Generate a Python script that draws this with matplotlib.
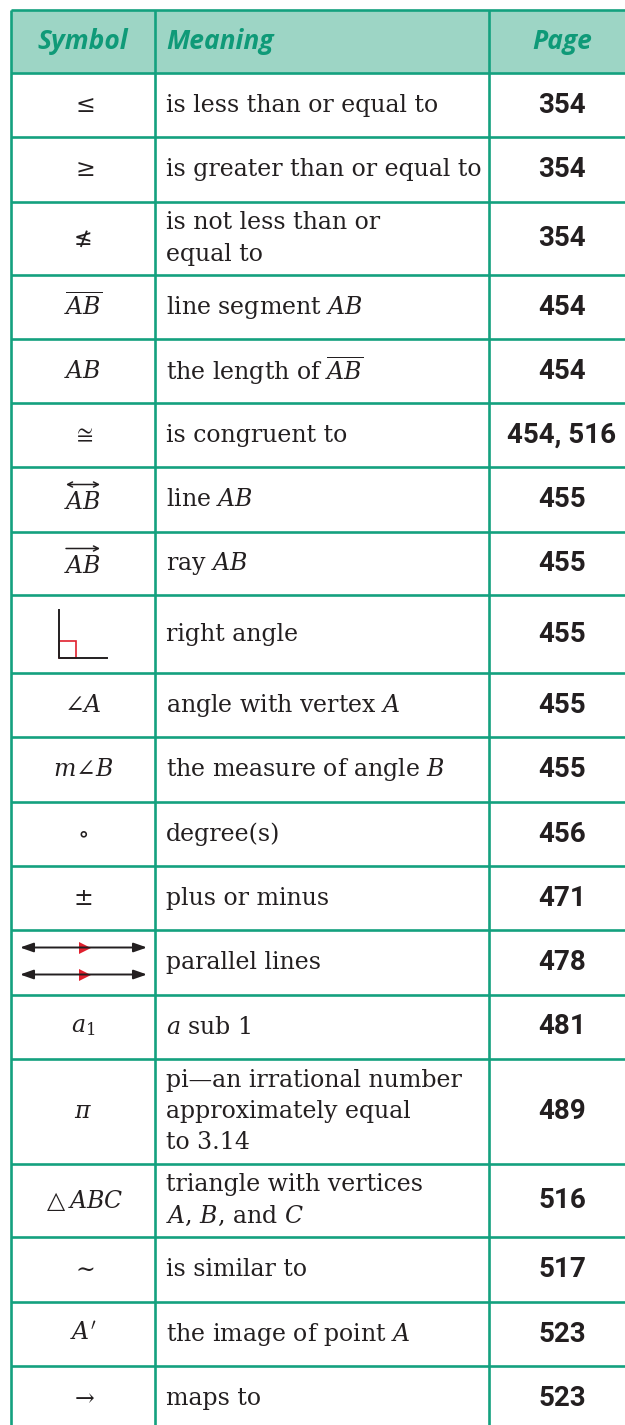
"""
Symbol / Meaning / Page table
"""

import matplotlib.pyplot as plt
from matplotlib.patches import Rectangle

plt.rcParams['font.family'] = ['DejaVu Serif']
plt.rcParams['mathtext.fontset'] = 'dejavuserif'

headers = ["Symbol", "Meaning", "Page"]

# "line-AB", "ray-AB", "right-angle" and "parallel" are drawn by hand below
symbols = [
    r"$\leq$", r"$\geq$", "\u2270", r"$\overline{AB}$", r"$AB$", r"$\cong$",
    "line-AB", "ray-AB", "right-angle",
    r"$\angle A$", r"$m\angle B$", r"$\circ$", r"$\pm$", "parallel", r"$a_1$",
    r"$\pi$", r"$\triangle ABC$", r"$\sim$", r"$A'$", r"$\rightarrow$",
]

meanings = [
    "is less than or equal to",
    "is greater than or equal to",
    "is not less than or\nequal to",
    "line segment $AB$",
    r"the length of $\overline{AB}$",
    "is congruent to",
    "line $AB$",
    "ray $AB$",
    "right angle",
    "angle with vertex $A$",
    "the measure of angle $B$",
    "degree(s)",
    "plus or minus",
    "parallel lines",
    "$a$ sub 1",
    "pi\u2014an irrational number\napproximately equal\nto 3.14",
    "triangle with vertices\n$A$, $B$, and $C$",
    "is similar to",
    "the image of point $A$",
    "maps to",
]

pages = [
    "354", "354", "354", "454", "454", "454, 516", "455", "455", "455", "455",
    "455", "456", "471", "478", "481", "489", "516", "517", "523", "523",
]

# layout (pixels)
W, H = 625, 1425
TOP = 10
COL_X = [11, 155, 489]
HEADER_H = 63
ROW_H = [64, 65, 73, 64, 64, 64, 65, 63, 78, 64, 65, 64, 64, 65, 64, 105, 73, 65, 64, 64]

GREEN = "#14a17f"
HEAD_FILL = "#9dd5c5"
HEAD_TEXT = "#0f9a78"
INK = "#231f20"
RED = "#e0202e"


def draw_right_angle(ax, cx, cy):
    ax.plot([cx - 24, cx - 24, cx + 24], [cy - 24, cy + 24, cy + 24], color=INK, lw=1.4)
    ax.add_patch(Rectangle((cx - 24, cy + 7), 17, 17, fill=False, ec=RED, lw=1.2))


def draw_parallel(ax, cx, cy):
    for yy in (cy - 15, cy + 12):
        ax.annotate("", xy=(cx + 64, yy), xytext=(cx - 63, yy),
                    arrowprops=dict(arrowstyle="<|-|>,head_length=0.8,head_width=0.28",
                                    color=INK, lw=1.4, shrinkA=0, shrinkB=0))
        ax.plot(cx + 2, yy, marker=">", color=RED, markersize=9, markeredgewidth=0)


def draw_arrow_ab(ax, cx, cy, style):
    ax.text(cx, cy + 3, r"$AB$", ha="center", va="center", fontsize=17, color=INK)
    ax.annotate("", xy=(cx + 17, cy - 15), xytext=(cx - 17, cy - 15),
                arrowprops=dict(arrowstyle=style, color=INK, lw=1.1,
                                shrinkA=0, shrinkB=0))


fig = plt.figure(figsize=(W / 100, H / 100), dpi=100)
ax = fig.add_axes([0, 0, 1, 1])
ax.set_xlim(0, W)
ax.set_ylim(H, 0)
ax.axis("off")

# header band
ax.add_patch(Rectangle((COL_X[0], TOP), W - COL_X[0], HEADER_H, color=HEAD_FILL, lw=0))
hy = TOP + HEADER_H / 2
head_font = dict(family=["Open Sans", "DejaVu Sans"], weight="bold", style="italic",
                 fontsize=19, color=HEAD_TEXT, va="center")
ax.text(83, hy, headers[0], ha="center", **head_font)
ax.text(166, hy, headers[1], ha="left", **head_font)
ax.text(562, hy, headers[2], ha="center", **head_font)

# rows
y = TOP + HEADER_H
bounds = [TOP, y]
for sym, mean, page, h in zip(symbols, meanings, pages, ROW_H):
    cy = y + h / 2
    cx = (COL_X[0] + COL_X[1]) / 2
    if sym == "right-angle":
        draw_right_angle(ax, cx, cy)
    elif sym == "parallel":
        draw_parallel(ax, cx, cy)
    elif sym == "line-AB":
        draw_arrow_ab(ax, cx, cy, "<->,head_length=0.35,head_width=0.18")
    elif sym == "ray-AB":
        draw_arrow_ab(ax, cx, cy, "->,head_length=0.35,head_width=0.18")
    elif sym == "\u2270":
        ax.text(cx, cy, sym, ha="center", va="center", fontsize=16, color=INK,
                family=["DejaVu Sans"])
    else:
        ax.text(cx, cy, sym, ha="center", va="center", fontsize=17, color=INK)
    ax.text(166, cy, mean, ha="left", va="center", fontsize=17, color=INK,
            linespacing=1.45)
    ax.text(562, cy, page, ha="center", va="center", fontsize=20, weight="bold",
            family=["Roboto", "DejaVu Sans"], color=INK)
    y += h
    bounds.append(y)

# grid lines
ax.hlines(bounds, COL_X[0], W, color=GREEN, lw=1.9)
ax.vlines(COL_X, TOP, H, color=GREEN, lw=1.9)

plt.savefig("out.png", dpi=100)
